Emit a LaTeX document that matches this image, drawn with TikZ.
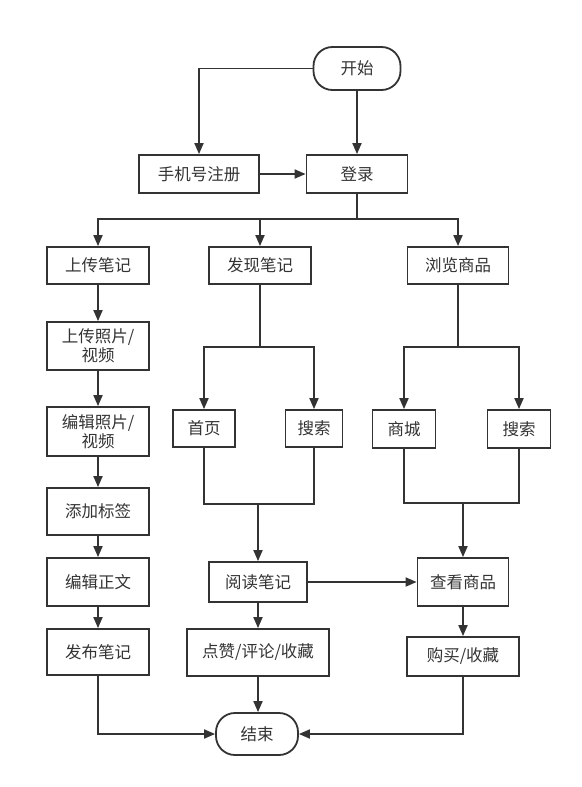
\documentclass[tikz,border=0pt]{standalone}
\usepackage{fontspec}
\setmainfont{Noto Sans CJK SC}
\usepackage{tikz}
\usetikzlibrary{
    arrows.meta,
    positioning,
    calc,
}
\usepackage{xcolor}
\definecolor{lineclr}{HTML}{333333}

\begin{document}
\begin{tikzpicture}[
    x=1pt, y=-1pt,
    >={Triangle[length=11pt, width=9pt]},
    box/.style   = {rectangle, draw=lineclr, line width=1.8pt,
                    text=lineclr, font=\fontsize{16.5}{19.5}\selectfont,
                    align=center, inner sep=2pt},
    term/.style  = {box, rounded corners=19pt},
    link/.style  = {draw=lineclr, line width=1.8pt},
    flow/.style  = {link, ->},
]
\useasboundingbox (0,0) rectangle (581,787);

%% ── Top ──────────────────────────────────────────────────────────────────────
\node[term, minimum width=87pt, minimum height=43pt] (start) at (357,68.5) {开始};
\node[box, minimum width=120pt, minimum height=38pt] (reg) at (199,174) {手机号注册};
\node[box, minimum width=101pt, minimum height=38pt] (login) at (357,174) {登录};

%% ── Three columns ────────────────────────────────────────────────────────────
\node[box, minimum width=102pt, minimum height=37pt] (upnote) at (98,265.5) {上传笔记};
\node[box, minimum width=102pt, minimum height=37pt] (findnote) at (260,265.5) {发现笔记};
\node[box, minimum width=101pt, minimum height=37pt] (browse) at (458,265.5) {浏览商品};

%% ── Upload column ────────────────────────────────────────────────────────────
\node[box, minimum width=102pt, minimum height=48pt] (upphoto) at (98,346) {上传照片/\\视频};
\node[box, minimum width=102pt, minimum height=49pt] (editphoto) at (98,431.5) {编辑照片/\\视频};
\node[box, minimum width=102pt, minimum height=47pt] (addtag) at (98,511.5) {添加标签};
\node[box, minimum width=102pt, minimum height=48pt] (edittext) at (98,582) {编辑正文};
\node[box, minimum width=102pt, minimum height=46pt] (publish) at (98,652) {发布笔记};

%% ── Find column ──────────────────────────────────────────────────────────────
\node[box, minimum width=62pt, minimum height=37pt] (home) at (204,428.5) {首页};
\node[box, minimum width=57pt, minimum height=37pt] (search1) at (314,428.5) {搜索};
\node[box, minimum width=98pt, minimum height=40pt] (read) at (258,582) {阅读笔记};
\node[box, minimum width=142pt, minimum height=47pt] (like) at (258,652.5) {点赞/评论/收藏};

%% ── Browse column ────────────────────────────────────────────────────────────
\node[box, minimum width=63pt, minimum height=38pt] (mall) at (404,429) {商城};
\node[box, minimum width=63pt, minimum height=38pt] (search2) at (519,429) {搜索};
\node[box, minimum width=91pt, minimum height=48pt] (view) at (463,582) {查看商品};
\node[box, minimum width=112pt, minimum height=39pt] (buy) at (463,656.5) {购买/收藏};

\node[term, minimum width=82pt, minimum height=42pt] (end) at (257,734) {结束};

%% ── Branch points ────────────────────────────────────────────────────────────
\coordinate (split) at (357,219);
\coordinate (findsplit) at (260,347);
\coordinate (findjoin) at (258,504);
\coordinate (browsesplit) at (458,347);
\coordinate (browsejoin) at (463,503);

%% ── Connectors ───────────────────────────────────────────────────────────────
\draw[flow] (start) -| (reg);
\draw[flow] (start) -- (login);
\draw[flow] (reg) -- (login);

\draw[link] (login) -- (split);
\draw[flow] (split) -| (upnote);
\draw[flow] (split) -| (findnote);
\draw[flow] (split) -| (browse);

\draw[flow] (upnote) -- (upphoto);
\draw[flow] (upphoto) -- (editphoto);
\draw[flow] (editphoto) -- (addtag);
\draw[flow] (addtag) -- (edittext);
\draw[flow] (edittext) -- (publish);

\draw[link] (findnote) -- (findsplit);
\draw[flow] (findsplit) -| (home);
\draw[flow] (findsplit) -| (search1);
\draw[link] (home) |- (findjoin) -| (search1);
\draw[flow] (findjoin) -- (read);

\draw[link] (browse) -- (browsesplit);
\draw[flow] (browsesplit) -| (mall);
\draw[flow] (browsesplit) -| (search2);
\draw[link] (mall) |- (browsejoin) -| (search2);
\draw[flow] (browsejoin) -- (view);

\draw[flow] (read) -- (view);
\draw[flow] (read) -- (like);
\draw[flow] (view) -- (buy);

\draw[flow] (publish) |- (end);
\draw[flow] (like.south) -- (like.south |- end.north);
\draw[flow] (buy) |- (end);

\end{tikzpicture}
\end{document}
